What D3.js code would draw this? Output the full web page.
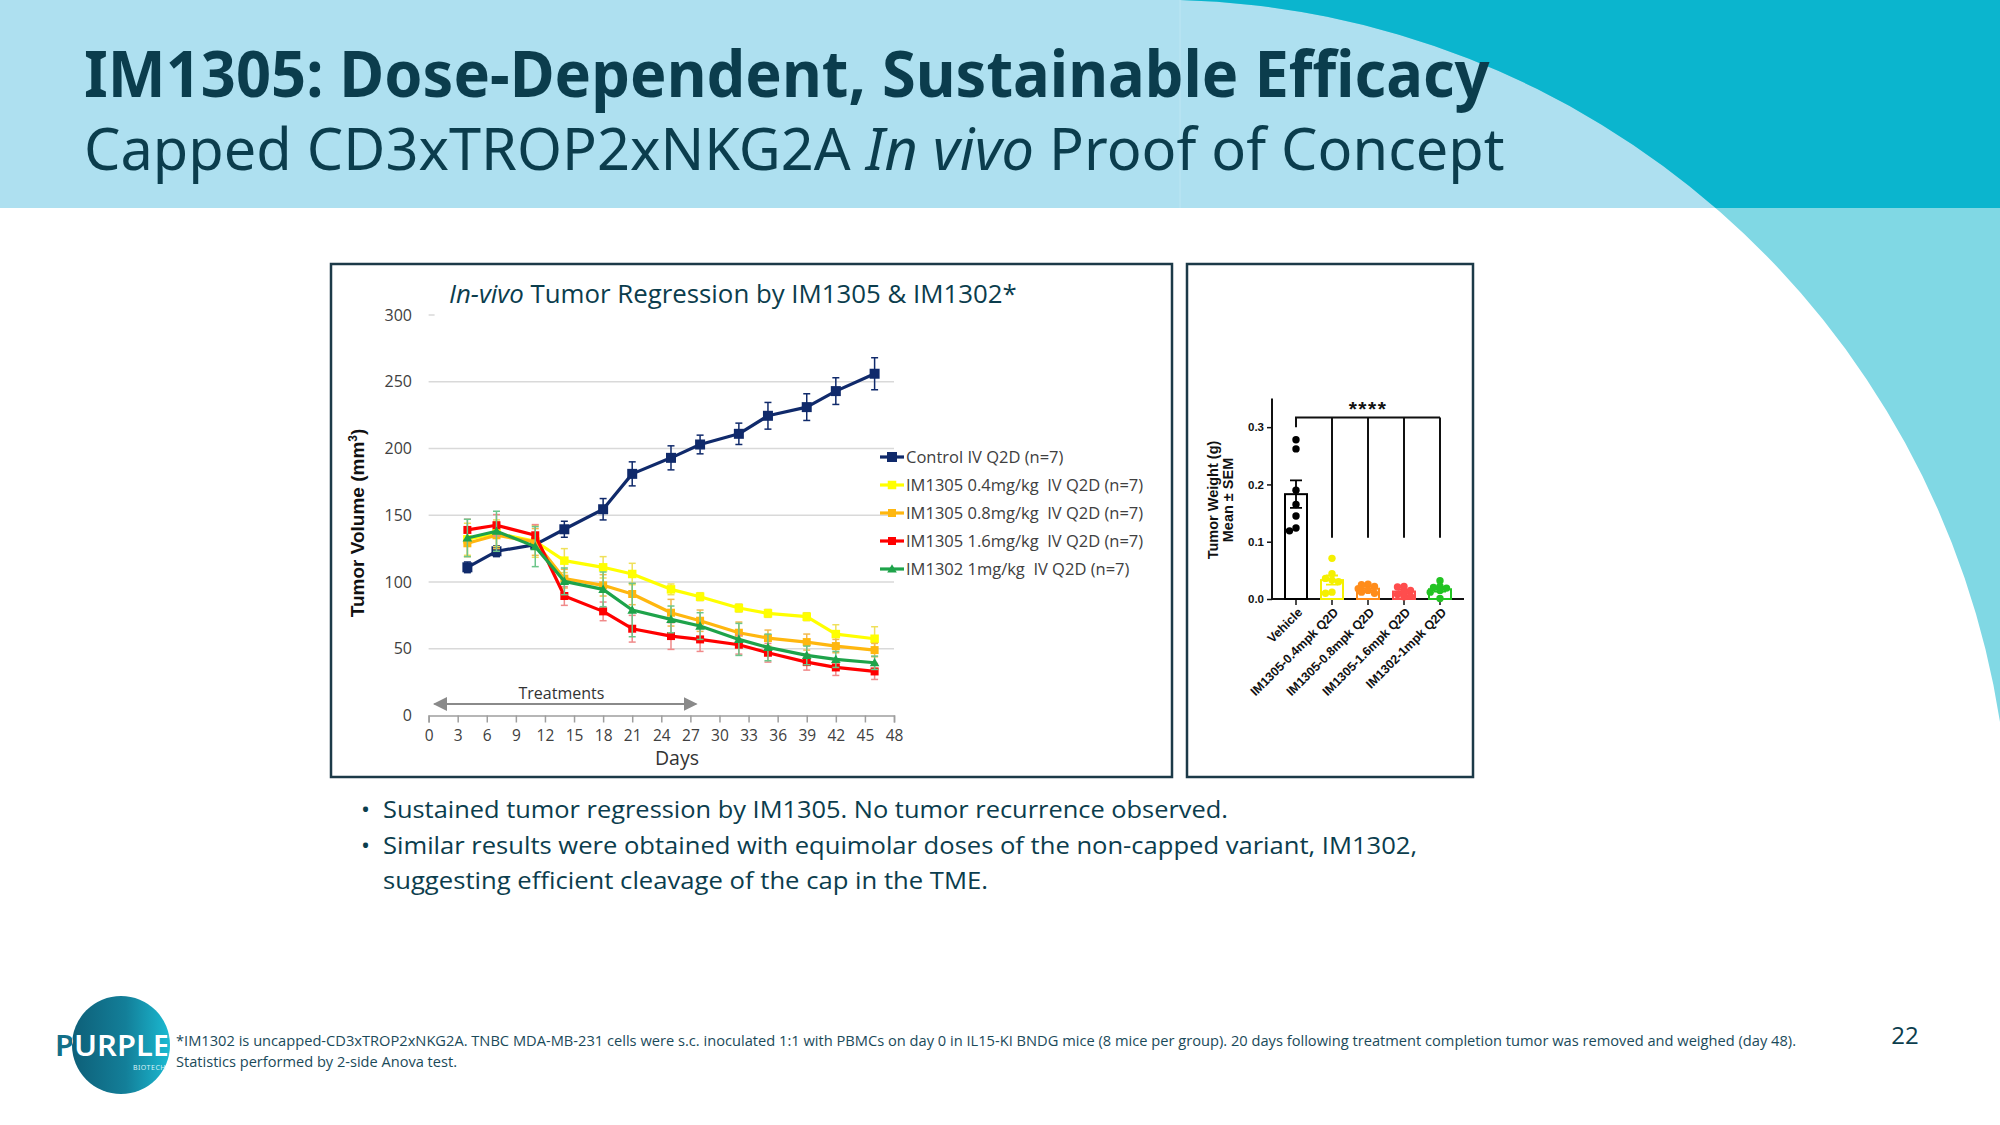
<!DOCTYPE html>
<html>
<head>
<meta charset="utf-8">
<title>IM1305: Dose-Dependent, Sustainable Efficacy</title>
<script src="https://cdn.jsdelivr.net/npm/d3@7"></script>
<style>
* { margin: 0; padding: 0; }
body { width: 2000px; height: 1125px; overflow: hidden; background: #fff; font-family: "Open Sans", sans-serif; }
text.pre { white-space: pre; }
</style>
</head>
<body>
<svg id="slide" width="2000" height="1125"></svg>
<script>
// ---- tumor volume (mm3), mean and SEM per measuring day ----
var days = [4, 7, 11, 14, 18, 21, 25, 28, 32, 35, 39, 42, 46];
var seriesLabels = ["Control IV Q2D (n=7)", "IM1305 0.4mg/kg  IV Q2D (n=7)", "IM1305 0.8mg/kg  IV Q2D (n=7)",
                    "IM1305 1.6mg/kg  IV Q2D (n=7)", "IM1302 1mg/kg  IV Q2D (n=7)"];
var controlMean = [111, 123, 128, 139.5, 154.5, 181, 193, 203, 211, 224.5, 231, 243, 256];
var controlSem  = [4, 4, 3, 6, 8, 9, 9, 7, 8, 10, 10, 10, 12];
var im1305Low   = [132, 136.5, 130.5, 116, 111, 106, 94.5, 89, 80.5, 76.5, 74, 61, 57.5];
var im1305LowSem = [12, 10, 12, 9, 8, 8, 4, 3, 3, 3, 3, 7, 9];
var im1305Mid   = [129, 135, 130, 102.5, 97.5, 91, 77, 71, 62, 58, 55, 52, 49];
var im1305MidSem = [10, 10, 10, 7, 8, 8, 10, 8, 8, 6, 6, 5, 5];
var im1305High  = [139, 142.5, 135, 89.5, 78, 65, 59.5, 57, 53, 47, 40, 36, 33];
var im1305HighSem = [8, 8, 8, 7, 7, 10, 10, 9, 7, 7, 6, 6, 6];
var im1302      = [133, 138, 126.5, 100.5, 94.5, 79, 72, 67, 57, 51, 45, 42, 39.5];
var im1302Sem   = [14, 15, 15, 10, 13, 20, 10, 10, 12, 10, 7, 6, 5];
var volumeTicks = [0, 50, 100, 150, 200, 250, 300];
var dayTicks = d3.range(0, 49, 3);

// ---- tumor weight (g) at day 48 ----
var weightGroups = ["Vehicle", "IM1305-0.4mpk Q2D", "IM1305-0.8mpk Q2D", "IM1305-1.6mpk Q2D", "IM1302-1mpk Q2D"];
var weightMean = [0.183, 0.033, 0.018, 0.013, 0.017];
var weightSem  = [0.024, 0.008, 0.003, 0.003, 0.004];
var weightPoints = [
  [0.278, 0.262, 0.190, 0.165, 0.145, 0.124, 0.119],
  [0.071, 0.044, 0.036, 0.033, 0.030, 0.012, 0.010],
  [0.026, 0.025, 0.022, 0.018, 0.015, 0.012, 0.010],
  [0.022, 0.021, 0.015, 0.012, 0.008, 0.005, 0.004],
  [0.032, 0.022, 0.020, 0.019, 0.015, 0.012, 0.001]
];
var weightTicks = [0, 0.1, 0.2, 0.3];

var ink = "#0b3d4d";
var svg = d3.select("#slide");
var defs = svg.append("defs");

// squeeze a text horizontally to a target width (keeps tspans apart)
function fitWidth(sel, x0, width) {
  var w = sel.node().getComputedTextLength();
  var k = width / w;
  sel.attr("transform", "translate(" + x0 + ",0) scale(" + k + ",1)").attr("x", 0);
}

// ---------- slide background ----------
defs.append("clipPath").attr("id", "headerClip")
  .append("rect").attr("width", 2000).attr("height", 208);
svg.append("rect").attr("width", 2000).attr("height", 208).attr("fill", "#aee0f0");
svg.append("line").attr("x1", 1180).attr("x2", 1180).attr("y1", 0).attr("y2", 208)
  .attr("stroke", "#bde6f3").attr("stroke-width", 1);
var swoosh = "M1180,0 A853,853 0 0,1 2000,722 L2000,0 Z";
svg.append("path").attr("d", swoosh).attr("fill", "#80d8e4");
svg.append("path").attr("d", swoosh).attr("fill", "#0bb5ce").attr("clip-path", "url(#headerClip)");

var head = svg.append("text").attr("y", 97)
  .attr("font-family", "Noto Sans").attr("font-weight", 700).attr("font-size", 64).attr("fill", ink)
  .text("IM1305: Dose-Dependent, Sustainable Efficacy");
fitWidth(head, 84, 1406);
var sub = svg.append("text").attr("y", 170)
  .attr("font-family", "Noto Sans").attr("font-size", 58).attr("fill", ink);
sub.append("tspan").text("Capped CD3xTROP2xNKG2A ");
sub.append("tspan").attr("font-style", "italic").text("In vivo");
sub.append("tspan").text(" Proof of Concept");
fitWidth(sub, 84, 1421);

// ---------- panel frames ----------
svg.append("rect").attr("x", 331).attr("y", 264).attr("width", 841).attr("height", 513)
  .attr("fill", "none").attr("stroke", "#1c3a48").attr("stroke-width", 2.5);
svg.append("rect").attr("x", 1187).attr("y", 264).attr("width", 286).attr("height", 513)
  .attr("fill", "none").attr("stroke", "#1c3a48").attr("stroke-width", 2.5);

// ---------- tumor volume line chart ----------
var x = d3.scaleLinear().domain([0, 48]).range([428.6, 894]);
var y = d3.scaleLinear().domain([0, 300]).range([715.5, 315]);
var lc = svg.append("g");

lc.append("g").selectAll("line").data(volumeTicks.filter(function(t) { return t > 0; }))
  .join("line")
  .attr("x1", x(0)).attr("x2", function(t) { return t === 300 ? x(0) + 6 : x(48); })
  .attr("y1", y).attr("y2", y)
  .attr("stroke", "#d9d9d9").attr("stroke-width", 1.5);

var xAxis = lc.append("g").attr("transform", "translate(0," + y(0) + ")")
  .call(d3.axisBottom(x).tickValues(dayTicks).tickSize(7).tickPadding(7));
xAxis.selectAll("path, line").attr("stroke", "#9e9e9e").attr("stroke-width", 1.5);
xAxis.selectAll("text").attr("font-family", "Open Sans").attr("font-size", 15.5).attr("fill", "#404040");

var yAxis = lc.append("g").attr("transform", "translate(" + 418 + ",0)")
  .call(d3.axisLeft(y).tickValues(volumeTicks).tickSize(0).tickPadding(6));
yAxis.select(".domain").remove();
yAxis.selectAll("text").attr("font-family", "Open Sans").attr("font-size", 16).attr("fill", "#404040");

var title = lc.append("text").attr("x", 449).attr("y", 303)
  .attr("font-family", "Open Sans").attr("font-size", 25).attr("fill", ink);
title.append("tspan").attr("font-style", "italic").text("In-vivo");
title.append("tspan").text(" Tumor Regression by IM1305 & IM1302*");
fitWidth(title, 449, 568);

var yt = lc.append("text").attr("transform", "translate(364,523) rotate(-90)")
  .attr("text-anchor", "middle").attr("font-family", "Liberation Sans").attr("font-weight", 700)
  .attr("font-size", 19).attr("fill", "#111");
yt.append("tspan").text("Tumor Volume (mm");
yt.append("tspan").attr("font-size", 12).attr("dy", -7).text("3");
yt.append("tspan").attr("dy", 7).text(")");

lc.append("text").attr("x", 677).attr("y", 765).attr("text-anchor", "middle")
  .attr("font-family", "Open Sans").attr("font-size", 19.5).attr("fill", "#333").text("Days");

// treatment window
defs.append("marker").attr("id", "arrowHead").attr("viewBox", "0 0 10 10")
  .attr("refX", 9).attr("refY", 5).attr("markerWidth", 7).attr("markerHeight", 7)
  .attr("orient", "auto-start-reverse")
  .append("path").attr("d", "M0,0 L10,5 L0,10 Z").attr("fill", "#8a8a8a");
lc.append("line").attr("x1", x(0.6)).attr("x2", x(27.6)).attr("y1", 704).attr("y2", 704)
  .attr("stroke", "#8a8a8a").attr("stroke-width", 2)
  .attr("marker-start", "url(#arrowHead)").attr("marker-end", "url(#arrowHead)");
lc.append("text").attr("x", x(13.7)).attr("y", 699).attr("text-anchor", "middle")
  .attr("font-family", "Open Sans").attr("font-size", 16).attr("fill", "#333").text("Treatments");

var series = [
  { name: seriesLabels[0], mean: controlMean, sem: controlSem, color: "#102a6b", err: "#102a6b", shape: "square", size: 10 },
  { name: seriesLabels[1], mean: im1305Low, sem: im1305LowSem, color: "#ffff00", err: "#efe05a", shape: "square", size: 8.5 },
  { name: seriesLabels[2], mean: im1305Mid, sem: im1305MidSem, color: "#ffb70f", err: "#f3b94a", shape: "square", size: 8 },
  { name: seriesLabels[3], mean: im1305High, sem: im1305HighSem, color: "#ff0000", err: "#f08a8a", shape: "square", size: 8 },
  { name: seriesLabels[4], mean: im1302, sem: im1302Sem, color: "#1ea34a", err: "#6cc68a", shape: "triangle", size: 8 }
];

var line = d3.line().x(function(d) { return x(d.day); }).y(function(d) { return y(d.v); });

function markerPath(shape, s) {
  if (shape === "triangle") return "M0," + (-s * 0.6) + " L" + (s * 0.6) + "," + (s * 0.45) + " L" + (-s * 0.6) + "," + (s * 0.45) + " Z";
  return "M" + (-s / 2) + "," + (-s / 2) + " h" + s + " v" + s + " h" + (-s) + " Z";
}

series.forEach(function(s) {
  var pts = days.map(function(d, i) { return { day: d, v: s.mean[i], e: s.sem[i] }; });
  var g = lc.append("g");
  var eb = g.append("g").attr("stroke", s.err).attr("stroke-width", 1.5);
  pts.forEach(function(p) {
    eb.append("line").attr("x1", x(p.day)).attr("x2", x(p.day)).attr("y1", y(p.v - p.e)).attr("y2", y(p.v + p.e));
    eb.append("line").attr("x1", x(p.day) - 3.5).attr("x2", x(p.day) + 3.5).attr("y1", y(p.v - p.e)).attr("y2", y(p.v - p.e));
    eb.append("line").attr("x1", x(p.day) - 3.5).attr("x2", x(p.day) + 3.5).attr("y1", y(p.v + p.e)).attr("y2", y(p.v + p.e));
  });
  g.append("path").datum(pts).attr("d", line).attr("fill", "none")
    .attr("stroke", s.color).attr("stroke-width", 3.2).attr("stroke-linejoin", "round");
  g.selectAll("path.mk").data(pts).join("path").attr("class", "mk")
    .attr("transform", function(p) { return "translate(" + x(p.day) + "," + y(p.v) + ")"; })
    .attr("d", markerPath(s.shape, s.size)).attr("fill", s.color);
});

// legend
var legend = lc.append("g").selectAll("g").data(series).join("g")
  .attr("transform", function(s, i) { return "translate(880," + (457 + i * 28) + ")"; });
legend.append("line").attr("x1", 0).attr("x2", 24).attr("stroke", function(s) { return s.color; }).attr("stroke-width", 3.2);
legend.append("path").attr("transform", "translate(12,0)")
  .attr("d", function(s) { return markerPath(s.shape, s.size); })
  .attr("fill", function(s) { return s.color; });
legend.append("text").attr("class", "pre").attr("x", 26).attr("dy", "0.35em")
  .attr("font-family", "Open Sans").attr("font-size", 16.5).attr("fill", "#404040")
  .text(function(s) { return s.name; });

// ---------- tumor weight bar chart ----------
var wy = d3.scaleLinear().domain([0, 0.35]).range([599, 398.5]);
var wx = d3.scaleBand().domain(weightGroups).range([1278, 1458]);
var weightColors = ["#000000", "#f5f000", "#ff8c1a", "#ff4d4d", "#22c322"];
var bc = svg.append("g").attr("font-family", "Liberation Sans").attr("font-weight", 700);
function cx(g) { return wx(g) + wx.bandwidth() / 2; }

var wAxis = bc.append("g").attr("transform", "translate(1272,0)")
  .call(d3.axisLeft(wy).tickValues(weightTicks).tickFormat(d3.format(".1f")).tickSize(5).tickPadding(3));
wAxis.select(".domain").attr("stroke", "#111").attr("stroke-width", 2).attr("d", "M0," + wy(0.35) + "V" + wy(0));
wAxis.selectAll(".tick line").attr("stroke", "#111").attr("stroke-width", 1.5);
wAxis.selectAll("text").attr("font-size", 11.5).attr("font-weight", 700).attr("fill", "#111");

bc.append("line").attr("x1", 1272).attr("x2", 1464).attr("y1", wy(0)).attr("y2", wy(0))
  .attr("stroke", "#111").attr("stroke-width", 2);
bc.selectAll("line.xt").data(weightGroups).join("line").attr("class", "xt")
  .attr("x1", cx).attr("x2", cx).attr("y1", wy(0)).attr("y2", wy(0) + 6)
  .attr("stroke", "#111").attr("stroke-width", 1.5);
bc.selectAll("text.xl").data(weightGroups).join("text").attr("class", "xl")
  .attr("transform", function(g) { return "translate(" + (cx(g) + 4) + "," + (wy(0) + 11) + ") rotate(-45)"; })
  .attr("text-anchor", "end").attr("dy", "0.35em").attr("font-size", 12.5).attr("fill", "#111")
  .text(function(g) { return g; });

bc.append("text").attr("transform", "translate(1218,500) rotate(-90)").attr("text-anchor", "middle")
  .attr("font-size", 14.5).attr("fill", "#111").text("Tumor Weight (g)");
bc.append("text").attr("transform", "translate(1233,500) rotate(-90)").attr("text-anchor", "middle")
  .attr("font-size", 14.5).attr("fill", "#111").text("Mean ± SEM");

// bars, SEM and individual animals
var barW = 22;
weightGroups.forEach(function(grp, i) {
  var c = cx(grp), col = weightColors[i];
  bc.append("rect").attr("x", c - barW / 2).attr("y", wy(weightMean[i]))
    .attr("width", barW).attr("height", wy(0) - wy(weightMean[i]))
    .attr("fill", "#fff").attr("stroke", col).attr("stroke-width", 2);
  var lo = wy(weightMean[i] - weightSem[i]), hi = wy(weightMean[i] + weightSem[i]);
  bc.append("path").attr("d", "M" + c + "," + lo + "V" + hi + "M" + (c - 6) + "," + hi + "H" + (c + 6) + "M" + (c - 6) + "," + lo + "H" + (c + 6))
    .attr("stroke", col).attr("stroke-width", 1.8).attr("fill", "none");

  // simple beeswarm so points do not fully cover each other
  var r = 3.7, step = 6.5, placed = [];
  weightPoints[i].forEach(function(v) {
    var py = wy(v), offs = [0, -step, step, -1.5 * step, 1.5 * step, -0.5 * step, 0.5 * step];
    var dx = offs.find(function(o) {
      return placed.every(function(p) { return (p.x - o) * (p.x - o) + (p.y - py) * (p.y - py) >= r * r * 1.6; });
    });
    if (dx === undefined) dx = 0;
    placed.push({ x: dx, y: py });
    bc.append("circle").attr("cx", c + dx).attr("cy", py).attr("r", r).attr("fill", col);
  });
});

// significance bracket
var brY = wy(0.317);
var br = "M" + cx(weightGroups[0]) + "," + wy(0.30) + "V" + brY + "H" + cx(weightGroups[4]);
weightGroups.slice(1).forEach(function(g) { br += "M" + cx(g) + "," + brY + "V" + wy(0.107); });
bc.append("path").attr("d", br).attr("fill", "none").attr("stroke", "#111").attr("stroke-width", 2);
bc.append("text").attr("x", (cx(weightGroups[0]) + cx(weightGroups[4])) / 2).attr("y", brY - 1)
  .attr("text-anchor", "middle").attr("font-size", 21).attr("letter-spacing", 1.5).attr("fill", "#111").text("****");

// ---------- bullets ----------
var bullets = [
  { text: "Sustained tumor regression by IM1305. No tumor recurrence observed.", len: 845, dot: true },
  { text: "Similar results were obtained with equimolar doses of the non-capped variant, IM1302,", len: 1034, dot: true },
  { text: "suggesting efficient cleavage of the cap in the TME.", len: 605, dot: false }
];
bullets.forEach(function(b, i) {
  var by = 818 + i * 35.5;
  if (b.dot) svg.append("text").attr("x", 361).attr("y", by).attr("font-size", 24).attr("fill", ink).text("•");
  svg.append("text").attr("x", 383).attr("y", by).attr("font-family", "Open Sans").attr("font-size", 24)
    .attr("fill", ink).attr("textLength", b.len).attr("lengthAdjust", "spacingAndGlyphs").text(b.text);
});

// ---------- footer ----------
var grad = defs.append("linearGradient").attr("id", "logoGrad").attr("x1", 0).attr("x2", 1).attr("y1", 0).attr("y2", 0);
grad.append("stop").attr("offset", 0).attr("stop-color", "#0e5f78");
grad.append("stop").attr("offset", 0.55).attr("stop-color", "#137f99");
grad.append("stop").attr("offset", 1).attr("stop-color", "#1bbad2");
// word mark: teal where it sits on white, white on the disc
var wordGrad = defs.append("linearGradient").attr("id", "wordGrad").attr("gradientUnits", "userSpaceOnUse")
  .attr("x1", 55).attr("x2", 170).attr("y1", 0).attr("y2", 0);
[[0, "#136f88"], [0.15, "#136f88"], [0.15, "#ffffff"], [0.97, "#ffffff"], [0.97, "#5ecbdc"], [1, "#5ecbdc"]]
  .forEach(function(st) { wordGrad.append("stop").attr("offset", st[0]).attr("stop-color", st[1]); });
svg.append("circle").attr("cx", 121).attr("cy", 1045).attr("r", 49).attr("fill", "url(#logoGrad)");
svg.append("text").attr("x", 55).attr("y", 1056).attr("font-family", "Noto Sans").attr("font-weight", 600)
  .attr("font-size", 29).attr("fill", "url(#wordGrad)").attr("textLength", 115).attr("lengthAdjust", "spacingAndGlyphs").text("PURPLE");
svg.append("text").attr("x", 166).attr("y", 1070).attr("text-anchor", "end").attr("font-family", "Noto Sans")
  .attr("font-size", 7).attr("fill", "#d8f2f7").attr("letter-spacing", 0.5).text("BIOTECH");

svg.append("text").attr("x", 176).attr("y", 1046).attr("font-family", "Open Sans").attr("font-size", 14)
  .attr("fill", "#1a4a5a").attr("textLength", 1620).attr("lengthAdjust", "spacingAndGlyphs")
  .text("*IM1302 is uncapped-CD3xTROP2xNKG2A. TNBC MDA-MB-231 cells were s.c. inoculated 1:1 with PBMCs on day 0 in IL15-KI BNDG mice (8 mice per group). 20 days following treatment completion tumor was removed and weighed (day 48).");
svg.append("text").attr("x", 176).attr("y", 1067).attr("font-family", "Open Sans").attr("font-size", 14)
  .attr("fill", "#1a4a5a").attr("textLength", 281).attr("lengthAdjust", "spacingAndGlyphs")
  .text("Statistics performed by 2-side Anova test.");

svg.append("text").attr("x", 1905).attr("y", 1044).attr("text-anchor", "middle").attr("font-family", "Open Sans")
  .attr("font-size", 24).attr("fill", ink).text("22");
</script>
</body>
</html>
